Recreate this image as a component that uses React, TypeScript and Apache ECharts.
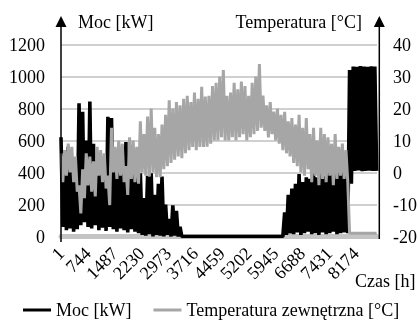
import React, { useEffect, useRef } from "react";
import * as echarts from "echarts";

// hours per sample column (each column: high value at start, low value half a step later)
const sampleStepHours = 100;

const xTickLabels = ["1", "744", "1487", "2230", "2973", "3716", "4459", "5202", "5945", "6688", "7431", "8174"];
const powerTicks = [0, 200, 400, 600, 800, 1000, 1200];
const tempTicks = [-20, -10, 0, 10, 20, 30, 40];

const mocHigh = [
  620, 540, 560, 470, 470, 832, 780, 600, 843, 580,
  478, 437, 450, 749, 740, 499, 478, 437, 590, 420,
  400, 410, 395, 240, 380, 395, 260, 330, 375, 200,
  110, 195, 160, 60, 0, 0, 0, 0, 0, 0,
  0, 0, 0, 0, 0, 0, 0, 0, 0, 0,
  0, 0, 0, 0, 0, 0, 0, 0, 0, 0,
  0, 0, 150, 260, 300, 330, 390, 340, 370, 360,
  395, 370, 400, 380, 400, 420, 400, 440, 520, 470,
  1040, 1062, 1060, 1065, 1062, 1060, 1064, 1062,
];
const mocLow = [
  60, 40, 50, 30, 45, 70, 90, 60, 50, 70,
  40, 55, 35, 60, 45, 30, 50, 40, 25, 45,
  30, 20, 10, 5, 15, 0, 10, 5, 0, 10,
  0, 5, 0, 0, 0, 0, 0, 0, 0, 0,
  0, 0, 0, 0, 0, 0, 0, 0, 0, 0,
  0, 0, 0, 0, 0, 0, 0, 0, 0, 0,
  0, 0, 10, 20, 15, 25, 10, 20, 30, 15,
  20, 10, 25, 15, 20, 30, 15, 20, 25, 20,
  330, 410, 412, 408, 410, 411, 409, 410,
];
const tempHigh = [
  6, 7, 9, 8, 5, -4, 1, 6, 5, 3.5,
  8, 7, 6, -1, 14, 8, 10, 9, 2, 11,
  10, 8, 16, 12, 17.5, 20, 14, 12, 15, 18,
  22.6, 20, 22, 21, 23, 24, 22, 25, 23, 26.8,
  23.7, 24, 27, 28, 30, 32, 24, 25, 28, 26,
  28.4, 27, 24, 28, 30, 33.9, 24, 21, 22, 19,
  20, 18, 19, 16, 17, 15, 18, 14, 17, 12,
  14, 10, 14, 12, 11, 9, 12, 8, 9, 7,
  -19, -19, -19, -19, -19, -19, -19, -19,
];
const tempLow = [
  -3, -1, 0, -3, -6, -12.8, -8, -4, -6, -7.5,
  -1, -3, -5, -10.2, 0, -2, -1, -3, -7, -2,
  -3, -3.5, 0, -1, -1.3, 0, -1.5, -1.5, 1, 2,
  3, 4, 5, 4.5, 6, 7, 8, 7, 8, 8,
  8.1, 9, 10, 10, 11, 10, 10, 11, 10, 11,
  12, 10, 11, 12, 13, 14, 13, 11, 12, 10,
  9, 7, 6, 5, 3, 2, 0, -1, 1, -3,
  -1, -4, -2, -3, -1, -4, -2, -1, -2, -3,
  -19, -19, -19, -19, -19, -19, -19, -19,
];

function zigzag(high: number[], low: number[]): number[][] {
  const out: number[][] = [];
  for (let i = 0; i < high.length; i++) {
    const h = i * sampleStepHours;
    out.push([h, high[i]]);
    out.push([h + sampleStepHours / 2, low[i]]);
  }
  return out;
}

const FONT = "'Liberation Serif', 'Times New Roman', serif";

export default function App() {
  const ref = useRef<HTMLDivElement>(null);
  useEffect(() => {
    if (!ref.current) return;
    const chart = echarts.init(ref.current, undefined, { renderer: "svg" });
    const leftX = 61;
    const rightX = 379.3;
    chart.setOption({
      animation: false,
      textStyle: { fontFamily: FONT, color: "#000" },
      grid: { left: 61, right: 420 - rightX, top: 44.5, bottom: 321 - 236.5, containLabel: false },
      legend: {
        left: 18,
        top: 296,
        icon: "rect",
        itemWidth: 28,
        itemHeight: 3,
        itemGap: 22,
        textStyle: { fontSize: 18, color: "#000", fontFamily: FONT },
        data: [
          { name: "Moc [kW]", itemStyle: { color: "#000" } },
          { name: "Temperatura zewnętrzna [°C]", itemStyle: { color: "#a6a6a6" } },
        ],
      },
      xAxis: {
        type: "value",
        min: 0,
        max: 8760,
        interval: 743,
        axisLine: { show: true, onZero: false, lineStyle: { color: "#c4c4c4", width: 5 } },
        axisTick: { show: false },
        splitLine: { show: false },
        axisLabel: {
          rotate: 45,
          margin: 14,
          fontSize: 18,
          color: "#000",
          fontFamily: FONT,
          formatter: (v: number) => {
            const k = Math.round(v / 743);
            return Math.abs(v - k * 743) < 1e-6 && k < xTickLabels.length ? xTickLabels[k] : "";
          },
        },
      },
      yAxis: [
        {
          type: "value",
          position: "left",
          min: powerTicks[0],
          max: powerTicks[powerTicks.length - 1],
          interval: 200,
          axisLine: { show: false },
          axisTick: { show: false },
          axisLabel: { margin: 16, fontSize: 18, color: "#000", fontFamily: FONT, formatter: (v: number) => String(v) },
          splitLine: { show: true, lineStyle: { color: "#d0d0d0", width: 2 } },
        },
        {
          type: "value",
          position: "right",
          min: tempTicks[0],
          max: tempTicks[tempTicks.length - 1],
          interval: 10,
          axisLine: { show: false },
          axisTick: { show: false },
          axisLabel: { margin: 16, fontSize: 18, color: "#000", fontFamily: FONT, formatter: (v: number) => String(v) },
          splitLine: { show: false },
        },
      ],
      series: [
        {
          type: "line",
          name: "Moc [kW]",
          yAxisIndex: 0,
          data: zigzag(mocHigh, mocLow),
          showSymbol: false,
          symbol: "none",
          lineStyle: { color: "#000", width: 3.6, join: "bevel" },
          itemStyle: { color: "#000" },
          z: 2,
        },
        {
          type: "line",
          name: "Temperatura zewnętrzna [°C]",
          yAxisIndex: 1,
          data: zigzag(tempHigh, tempLow),
          showSymbol: false,
          symbol: "none",
          lineStyle: { color: "#a6a6a6", width: 3, join: "bevel" },
          itemStyle: { color: "#a6a6a6" },
          z: 3,
        },
      ],
      graphic: [
        { type: "line", shape: { x1: leftX, y1: 22, x2: leftX, y2: 242 }, style: { stroke: "#000", lineWidth: 1.5 }, z: 10 },
        { type: "polygon", shape: { points: [[leftX - 5.5, 27], [leftX, 16], [leftX + 5.5, 27]] }, style: { fill: "#000" }, z: 10 },
        { type: "line", shape: { x1: rightX, y1: 22, x2: rightX, y2: 239 }, style: { stroke: "#000", lineWidth: 1.5 }, z: 10 },
        { type: "polygon", shape: { points: [[rightX - 5.5, 27], [rightX, 16], [rightX + 5.5, 27]] }, style: { fill: "#000" }, z: 10 },
        { type: "text", left: 78, top: 13, style: { text: "Moc [kW]", font: `18px ${FONT}`, fill: "#000" } },
        { type: "text", right: 420 - 362, top: 13, style: { text: "Temperatura [°C]", font: `18px ${FONT}`, fill: "#000" } },
        { type: "text", left: 355, top: 272, style: { text: "Czas [h]", font: `18px ${FONT}`, fill: "#000" } },
      ],
    });
    return () => chart.dispose();
  }, []);
  return <div ref={ref} style={{ position: "fixed", left: 0, top: 0, width: 420, height: 321 }} />;
}
